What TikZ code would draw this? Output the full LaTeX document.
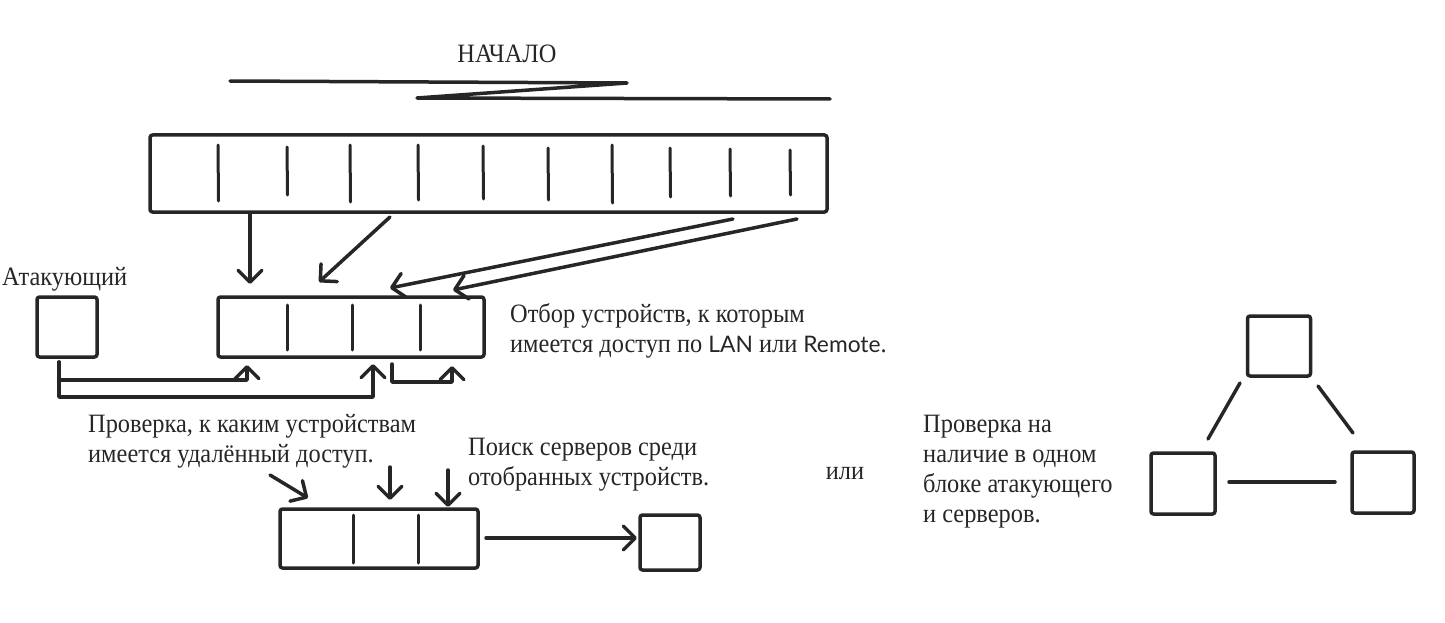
\documentclass[tikz,border=0pt]{standalone}
\usepackage{fontspec}
\setmainfont{Liberation Serif}[FakeStretch=0.92]
\newfontfamily\latofont{Lato}[Scale=0.86]
\usetikzlibrary{arrows.meta,calc}
\begin{document}
\begin{tikzpicture}[x=1pt,y=-1pt,
  sk/.style={line width=3.5pt, line cap=round, line join=round, draw=black!85},
  box/.style={sk, draw, rounded corners=2.5pt, inner sep=0pt, fill=none},
  dv/.style={line width=3pt, line cap=round, draw=black!85},
  arr/.style={sk, -{Straight Barb[length=12pt,width=24pt,line cap=round,line join=round]}},
  lbl/.style={font=\fontsize{26.5}{29.7}\selectfont, inner sep=0pt, align=left, text=black!85}]
\useasboundingbox (0,0) rectangle (1445,623);
% title
\node[lbl, anchor=base] (title) at (507,63) {НАЧАЛО};
\draw[sk] (230,81) -- (627,83) -- (417,98) -- (830,99);
% big box
\node[box, minimum width=677pt, minimum height=77pt] (big) at (488.5,173.5) {};
\foreach \x/\a/\b in {218/145/201, 287/147/195, 350/145/202, 418/145/200, 483/146/199, 548/148/200, 612/145/203, 670/148/197, 730/149/196, 790/150/195}
  \draw[dv] (\x,\a) -- (\x+0.5,\b);
% middle box
\node[box, minimum width=266pt, minimum height=60pt] (mid) at (351,327) {};
\foreach \x in {287,352,420}
  \draw[dv] (\x,305) -- (\x,350);
\node[box, minimum width=60pt, minimum height=60pt] (att) at (67,327) {};
\node[lbl, anchor=base west] (attl) at (2,285) {Атакующий};
\node[lbl, anchor=base west] (t1) at (510,352) {Отбор устройств, к которым\\имеется доступ по {\latofont LAN} или {\latofont Remote}.};
% arrows big -> mid
\coordinate (b1) at (250,213); \coordinate (b2) at (390,217);
\coordinate (b3) at (733,219); \coordinate (b4) at (797,219);
\coordinate (m1) at (250,284); \coordinate (m2) at (319,282);
\coordinate (m3) at (390,288); \coordinate (m4) at (453,290);
\draw[arr] (b1) -- (m1);
\draw[arr] (b2) -- (m2);
\draw[arr] (b3) -- (m3);
\draw[arr] (b4) -- (m4);
% attacker -> mid
\coordinate (a0) at (59,362);
\coordinate (u1) at (247,365); \coordinate (u2) at (373,364); \coordinate (u3) at (452,366);
\coordinate (s3) at (392,364);
\draw[arr] (a0) -- (59,380) -- (247,380) -- (u1);
\draw[arr] (a0) -- (59,397) -- (373,397) -- (u2);
\draw[arr] (s3) -- (392,382) -- (452,382) -- (u3);
% texts lower
\node[lbl, anchor=base west] (t2) at (88,462) {Проверка, к каким устройствам\\имеется удалённый доступ.};
\node[lbl, anchor=base west] (t3) at (468,485) {Поиск серверов среди\\отобранных устройств.};
\node[lbl, anchor=base] (ili) at (845,479) {или};
% low box
\node[box, minimum width=198pt, minimum height=59pt] (low) at (379,538.5) {};
\foreach \x in {353,418}
  \draw[dv] (\x,515) -- (\x,563);
\coordinate (l1s) at (270,475); \coordinate (l1e) at (308,498);
\coordinate (l2s) at (390,467); \coordinate (l2e) at (390,500);
\coordinate (l3s) at (448,470); \coordinate (l3e) at (448,507);
\draw[arr] (l1s) -- (l1e);
\draw[arr] (l2s) -- (l2e);
\draw[arr] (l3s) -- (l3e);
\node[box, minimum width=60pt, minimum height=55pt] (srv) at (670,542.5) {};
\coordinate (ls) at (486,538); \coordinate (le) at (637,538);
\draw[arr] (ls) -- (le);
% right part
\node[lbl, anchor=base west] (t4) at (923,522) {Проверка на\\наличие в одном\\блоке атакующего\\и серверов.};
\node[box, minimum width=63pt, minimum height=60pt] (tt) at (1279,346) {};
\node[box, minimum width=64pt, minimum height=61pt] (tl) at (1183,483.5) {};
\node[box, minimum width=62pt, minimum height=61pt] (tr) at (1383,482.5) {};
\coordinate (e1) at (1240,383); \coordinate (e2) at (1208,439);
\coordinate (e3) at (1318,386); \coordinate (e4) at (1353,433);
\coordinate (e5) at (1229,482); \coordinate (e6) at (1335,482);
\draw[sk] (e1) -- (e2);
\draw[sk] (e3) -- (e4);
\draw[sk] (e5) -- (e6);
\end{tikzpicture}
\end{document}
